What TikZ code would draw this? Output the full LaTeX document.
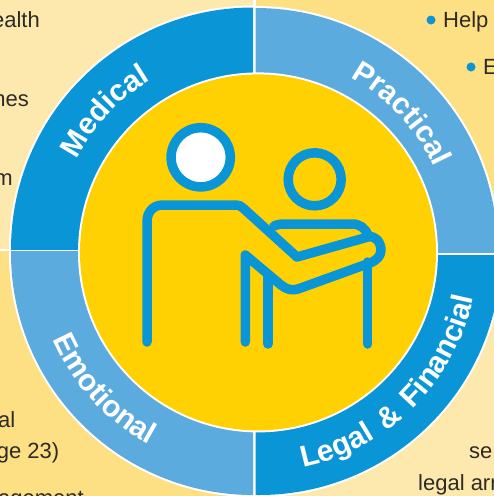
\documentclass[tikz,border=0pt]{standalone}
\usepackage{fontspec}
\setmainfont{Liberation Sans}
\newfontfamily\labfonta[LetterSpace=10]{Liberation Sans Bold}
\newfontfamily\labfontb[LetterSpace=9]{Liberation Sans Bold}
\newfontfamily\labfontc[LetterSpace=13]{Liberation Sans Bold}
\newfontfamily\labfontd[LetterSpace=14]{Liberation Sans Bold}
\usetikzlibrary{decorations.text}
\definecolor{bgpale}{HTML}{FDE9AE}
\definecolor{bgdeep}{HTML}{FDE083}
\definecolor{ringdeep}{HTML}{0A96D6}
\definecolor{ringpale}{HTML}{5CABDF}
\definecolor{sunny}{HTML}{FFD103}
\definecolor{inktext}{HTML}{2E2A25}
\tikzset{
  body/.style={text=inktext,font=\fontsize{22}{26}\selectfont,inner sep=0pt},
  figline/.style={draw=ringdeep,line width=9.5pt,line cap=round,line join=round},
  dot/.style={circle,fill=ringdeep,minimum size=9pt,inner sep=0pt}
}
\newcommand{\arclab}{\color{white}\fontsize{30}{34}\selectfont}
\newcommand{\quadrant}[7]{%
  \begin{scope}
    \clip (#1,#2) rectangle (#3,#4);
    \fill[#7] (#1,#2) rectangle (#3,#4);
    \fill[white] (#5) circle[radius=244pt];
    \fill[#6] (#5) circle[radius=242pt];
  \end{scope}}
\begin{document}
\begin{tikzpicture}[x=1pt,y=-1pt]
\useasboundingbox (0,0) rectangle (494,496);
\fill[white] (0,0) rectangle (494,496);
\clip (0,0) rectangle (494,496);
\coordinate (tl) at (253,249.5);
\coordinate (tr) at (255.5,250);
\coordinate (bl) at (253,253);
\coordinate (br) at (259,253);
\coordinate (hub) at (258,252.4);
\quadrant{0}{0}{253}{249}{tl}{ringdeep}{bgpale}
\quadrant{255.5}{0}{494}{252}{tr}{ringpale}{bgdeep}
\quadrant{0}{251}{253}{496}{bl}{ringpale}{bgdeep}
\quadrant{255.5}{255}{494}{496}{br}{ringdeep}{bgpale}
\fill[white] (hub) circle[radius=180pt];
\fill[sunny] (hub) circle[radius=178pt];
% figures
\draw[figline,fill=white] (200.7,157.3) circle[radius=29.6pt];
\draw[figline] (314.7,179.3) circle[radius=26.5pt];
\draw[figline] (274,226) .. controls (278,224) and (282,224) .. (288,224)
  -- (352,224) .. controls (360,224) and (365,228) .. (368,235);
\draw[figline] (268,277) -- (268,344);
\draw[figline] (367.7,262) -- (367.7,344);
\draw[figline] (147,342) -- (147,222) .. controls (147,212) and (153,205) .. (163,205)
  -- (236,205) .. controls (239,205) and (241,206) .. (243,208)
  -- (297,257) -- (368,237) .. controls (375,235) and (381,242) .. (381,250)
  .. controls (381,256) and (377,260) .. (370,263)
  -- (298,289) .. controls (291,291) and (286,289) .. (281,285) -- (245.3,255) -- (245.3,342);
% ring labels
\path[decorate,decoration={text along path,text align=center,text={|\labfonta\arclab|Medical}}]
  (tl) ++(172:198pt) arc[start angle=172,end angle=102,radius=198pt];
\path[decorate,decoration={text along path,text align=center,text={|\labfontb\arclab|Practical}}]
  (tr) ++(78:197pt) arc[start angle=78,end angle=8,radius=197pt];
\path[decorate,decoration={text along path,text align=center,text={|\labfontc\arclab|Emotional}}]
  (bl) ++(187:218pt) arc[start angle=187,end angle=258,radius=218pt];
\path[decorate,decoration={text along path,text align=center,text={|\labfontd\arclab|Legal {\&} Financial}}]
  (br) ++(268:219pt) arc[start angle=268,end angle=362,radius=219pt];
% cropped body text
\node[body,anchor=base east] (t1) at (40,27) {ealth};
\node[body,anchor=base east] (t2) at (29,106) {nes};
\node[body,anchor=base east] (t3) at (13,185) {m};
\node[body,anchor=base east] (t4) at (15.5,427) {al};
\node[body,anchor=base east] (t5) at (59.5,458) {ge 23)};
\node[body,anchor=base east] (t6) at (84,505) {agement};
\node[dot] (b1) at (431,20) {};
\node[body,anchor=base west] (t7) at (443,27) {Help};
\node[dot] (b2) at (471,67) {};
\node[body,anchor=base west] (t8) at (483,74) {E};
\node[body,anchor=base west] (t9) at (469,458) {se};
\node[body,anchor=base west] (t10) at (418,490) {legal arr};
\end{tikzpicture}
\end{document}
